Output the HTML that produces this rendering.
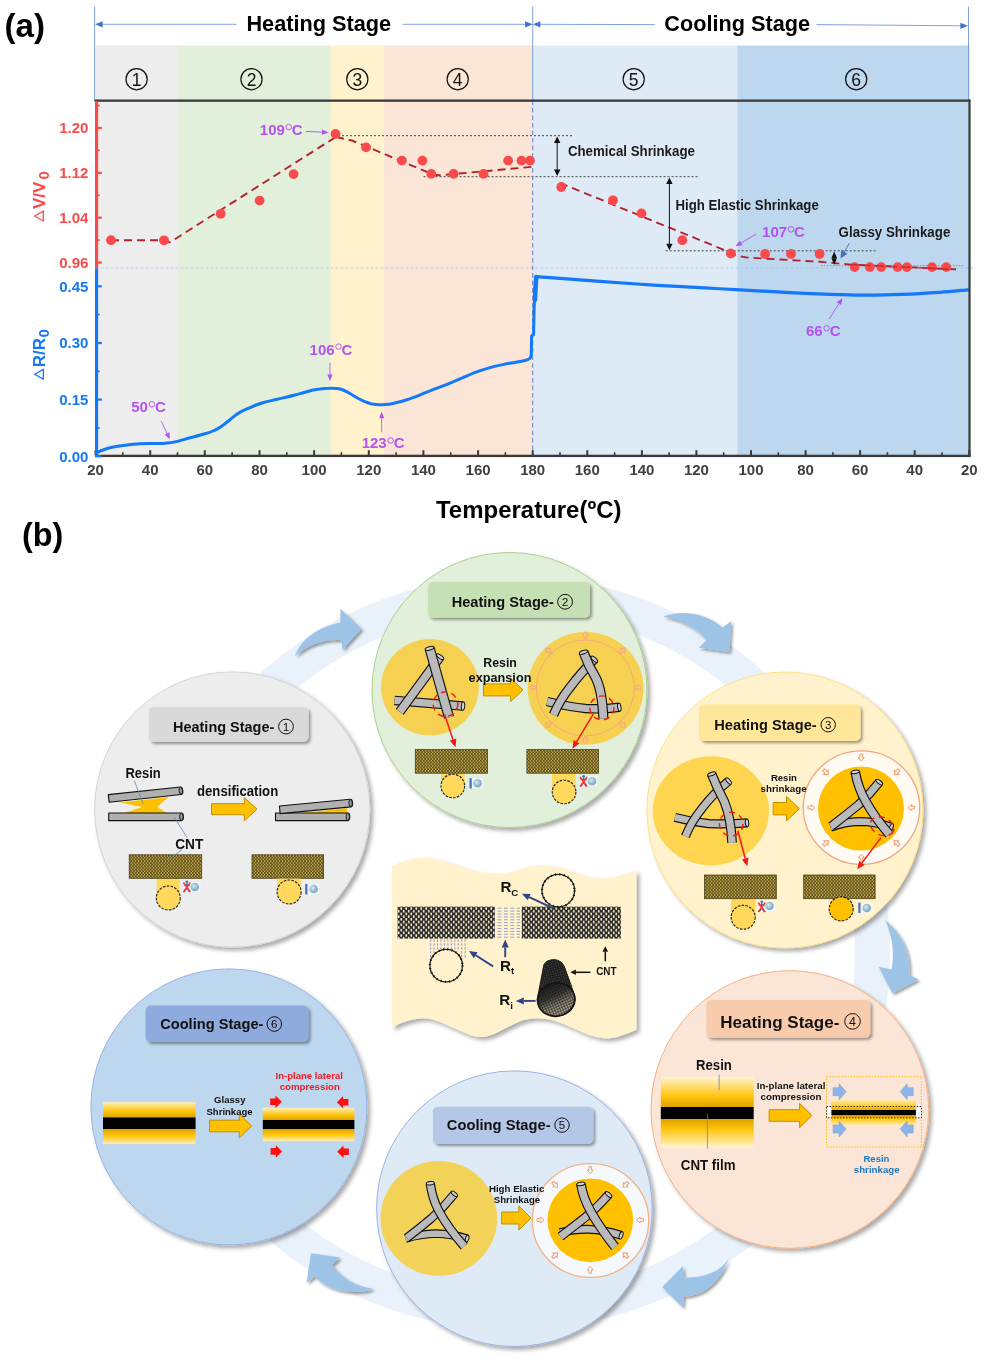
<!DOCTYPE html>
<html><head><meta charset="utf-8"><title>figure</title>
<style>
html,body{margin:0;padding:0;background:#fff;}
body{width:988px;height:1360px;overflow:hidden;font-family:"Liberation Sans",sans-serif;}
svg{display:block;filter:blur(0.4px);}
text{font-family:"Liberation Sans",sans-serif;}
</style></head><body>
<svg width="988" height="1360" viewBox="0 0 988 1360">
<defs>
<filter id="sh" x="-10%" y="-10%" width="125%" height="125%"><feGaussianBlur in="SourceAlpha" stdDeviation="2"/><feOffset dx="2.5" dy="2.5"/><feComponentTransfer><feFuncA type="linear" slope="0.34"/></feComponentTransfer><feMerge><feMergeNode/><feMergeNode in="SourceGraphic"/></feMerge></filter>
<filter id="sh2" x="-20%" y="-20%" width="150%" height="150%"><feGaussianBlur in="SourceAlpha" stdDeviation="1.6"/><feOffset dx="1.5" dy="2"/><feComponentTransfer><feFuncA type="linear" slope="0.4"/></feComponentTransfer><feMerge><feMergeNode/><feMergeNode in="SourceGraphic"/></feMerge></filter>
<filter id="blur1"><feGaussianBlur stdDeviation="0.45"/></filter>
<pattern id="cnt" width="3" height="3.4" patternUnits="userSpaceOnUse"><rect width="3" height="3.4" fill="#5a4f22"/><ellipse cx="0.75" cy="0.85" rx="0.58" ry="0.82" fill="#f7d24f"/><ellipse cx="2.25" cy="2.55" rx="0.58" ry="0.82" fill="#f7d24f"/></pattern>
<pattern id="cntk" width="5" height="5.4" patternUnits="userSpaceOnUse"><rect width="5" height="5.4" fill="#2b2b2b"/><ellipse cx="1.25" cy="1.35" rx="0.92" ry="1.5" fill="#ece2c0"/><ellipse cx="3.75" cy="4.05" rx="0.92" ry="1.5" fill="#ece2c0"/></pattern>
<linearGradient id="film" x1="0" y1="0" x2="0" y2="1"><stop offset="0" stop-color="#fff4d2"/><stop offset="0.28" stop-color="#ffc40a"/><stop offset="0.42" stop-color="#e0a400"/><stop offset="0.43" stop-color="#000"/><stop offset="0.59" stop-color="#000"/><stop offset="0.60" stop-color="#e0a400"/><stop offset="0.74" stop-color="#ffc40a"/><stop offset="1" stop-color="#fff4d2"/></linearGradient>
<linearGradient id="film6" x1="0" y1="0" x2="0" y2="1"><stop offset="0" stop-color="#ffeeb8"/><stop offset="0.22" stop-color="#ffc40a"/><stop offset="0.36" stop-color="#e0a400"/><stop offset="0.37" stop-color="#000"/><stop offset="0.64" stop-color="#000"/><stop offset="0.65" stop-color="#e0a400"/><stop offset="0.8" stop-color="#ffc40a"/><stop offset="1" stop-color="#ffeeb8"/></linearGradient>
<linearGradient id="film4" x1="0" y1="0" x2="0" y2="1"><stop offset="0" stop-color="#ffefc0"/><stop offset="0.3" stop-color="#ffc40a"/><stop offset="0.41" stop-color="#e0a400"/><stop offset="0.42" stop-color="#000"/><stop offset="0.60" stop-color="#000"/><stop offset="0.61" stop-color="#e0a400"/><stop offset="0.72" stop-color="#ffc40a"/><stop offset="1" stop-color="#ffefc0"/></linearGradient>
<radialGradient id="sph" cx="0.4" cy="0.4" r="0.7"><stop offset="0" stop-color="#d9ecf5"/><stop offset="0.55" stop-color="#8fb9d0"/><stop offset="1" stop-color="#7aa6c2"/></radialGradient>
<radialGradient id="tube3d" cx="0.5" cy="0.5" r="0.6"><stop offset="0" stop-color="#555"/><stop offset="1" stop-color="#111"/></radialGradient>
<linearGradient id="tubein" x1="0" y1="0" x2="0.25" y2="1"><stop offset="0" stop-color="#161616"/><stop offset="0.45" stop-color="#3a3935"/><stop offset="0.75" stop-color="#8d8878"/><stop offset="1" stop-color="#a39d88"/></linearGradient>
<pattern id="mesh" width="2.6" height="2.6" patternUnits="userSpaceOnUse" patternTransform="rotate(-12)"><path d="M0 0 L2.6 0 M0 0 L0 2.6" stroke="#111" stroke-width="0.9" fill="none"/></pattern>
<pattern id="mesh2" width="2.4" height="2.4" patternUnits="userSpaceOnUse" patternTransform="rotate(-14)"><rect x="0.7" y="0.7" width="1.1" height="1.1" fill="#777"/></pattern>
</defs>
<rect width="988" height="1360" fill="#fff"/>
<rect x="95.5" y="45.5" width="82.0" height="410.3" fill="#ededed"/>
<rect x="177.2" y="45.5" width="153.7" height="410.3" fill="#e2efda"/>
<rect x="330.6" y="45.5" width="53.7" height="410.3" fill="#fff2cc"/>
<rect x="384.0" y="45.5" width="149.0" height="410.3" fill="#fbe5d6"/>
<rect x="532.7" y="45.5" width="204.9" height="410.3" fill="#deebf7"/>
<rect x="737.3" y="45.5" width="232.0" height="410.3" fill="#bdd7ee"/>
<g stroke="#6f97df" stroke-width="0.9" fill="none">
<line x1="94.6" y1="6.5" x2="94.6" y2="100.6"/>
<line x1="532.7" y1="6.5" x2="532.7" y2="100.6"/>
<line x1="968.5" y1="6.5" x2="968.5" y2="100.6"/>
<line x1="100" y1="24.3" x2="236.5" y2="24.3"/>
<line x1="402.8" y1="24.3" x2="527" y2="24.3"/>
<line x1="538" y1="24.3" x2="654.7" y2="24.6"/>
<line x1="816.4" y1="24.6" x2="962" y2="25.8"/>
</g>
<g fill="#4472c4">
<path d="M95.2 24.3 L102.6 21.2 L102.6 27.4 Z"/>
<path d="M532.5 24.3 L525.1 21.2 L525.1 27.4 Z"/>
<path d="M532.9000000000001 24.3 L540.3000000000001 21.2 L540.3000000000001 27.4 Z"/>
<path d="M967.8 25.8 L960.4 22.7 L960.4 28.9 Z"/>
</g>
<text x="246.4" y="31.4" font-size="21.7" fill="#000" font-weight="bold" textLength="144.8" lengthAdjust="spacingAndGlyphs" >Heating Stage</text>
<text x="664.3" y="31.4" font-size="21.7" fill="#000" font-weight="bold" textLength="145.7" lengthAdjust="spacingAndGlyphs" >Cooling Stage</text>
<text x="4.5" y="36.5" font-size="33" fill="#000" font-weight="bold" textLength="40.5" lengthAdjust="spacingAndGlyphs" >(a)</text>
<circle cx="136.6" cy="79.2" r="10.6" fill="none" stroke="#111" stroke-width="1.2"/>
<text x="136.6" y="85.50" font-size="17.50" text-anchor="middle" fill="#111">1</text>
<circle cx="251.5" cy="79.2" r="10.6" fill="none" stroke="#111" stroke-width="1.2"/>
<text x="251.5" y="85.50" font-size="17.50" text-anchor="middle" fill="#111">2</text>
<circle cx="357.3" cy="79.2" r="10.6" fill="none" stroke="#111" stroke-width="1.2"/>
<text x="357.3" y="85.50" font-size="17.50" text-anchor="middle" fill="#111">3</text>
<circle cx="457.7" cy="79.2" r="10.6" fill="none" stroke="#111" stroke-width="1.2"/>
<text x="457.7" y="85.50" font-size="17.50" text-anchor="middle" fill="#111">4</text>
<circle cx="633.7" cy="79.2" r="10.6" fill="none" stroke="#111" stroke-width="1.2"/>
<text x="633.7" y="85.50" font-size="17.50" text-anchor="middle" fill="#111">5</text>
<circle cx="856.2" cy="79.2" r="10.6" fill="none" stroke="#111" stroke-width="1.2"/>
<text x="856.2" y="85.50" font-size="17.50" text-anchor="middle" fill="#111">6</text>
<g stroke="#444" stroke-width="1" stroke-dasharray="2 2" fill="none">
<line x1="338" y1="135.7" x2="574" y2="135.7"/>
<line x1="423.5" y1="176.7" x2="699.3" y2="176.7"/>
<line x1="665.7" y1="250.8" x2="876.8" y2="250.8"/>
</g>
<line x1="820.8" y1="265.6" x2="963.4" y2="265.6" stroke="#888" stroke-width="0.9" stroke-dasharray="1.5 1.5"/>
<line x1="95.5" y1="268.0" x2="976" y2="268.0" stroke="#a9bfe8" stroke-width="1" stroke-dasharray="3 2" opacity="0.75"/>
<line x1="532.7" y1="100.6" x2="532.7" y2="455.8" stroke="#5b7fd1" stroke-width="1" stroke-dasharray="4.5 3"/>
<g stroke="#b5222b" stroke-width="1.9" fill="none" stroke-dasharray="8 5" stroke-linejoin="round">
<path d="M111 240.2 L163 240.2 Q167 243.6 171 241.6 L335.5 137.2"/>
<path d="M336 137 L352 140.5 L431 173.5 Q436 176 443 175 L534.5 166.6"/>
<path d="M560 183 L728 251.5 Q738 256.8 748 257.6 L820 261.8 L850 264.6 L956 269.4"/>
</g>
<g fill="#fb4a4c">
<circle cx="111" cy="240.2" r="4.9"/>
<circle cx="164" cy="240.3" r="4.9"/>
<circle cx="220.7" cy="213.8" r="4.9"/>
<circle cx="259.6" cy="200.6" r="4.9"/>
<circle cx="293.6" cy="174.1" r="4.9"/>
<circle cx="335.5" cy="133.9" r="4.9"/>
<circle cx="366.1" cy="147.4" r="4.9"/>
<circle cx="401.9" cy="160.6" r="4.9"/>
<circle cx="422.4" cy="160.6" r="4.9"/>
<circle cx="431.3" cy="173.9" r="4.9"/>
<circle cx="453.6" cy="173.9" r="4.9"/>
<circle cx="483.6" cy="173.9" r="4.9"/>
<circle cx="508.1" cy="160.6" r="4.9"/>
<circle cx="521.5" cy="160.6" r="4.9"/>
<circle cx="530" cy="160.6" r="4.9"/>
<circle cx="561.3" cy="187" r="4.9"/>
<circle cx="613" cy="200.3" r="4.9"/>
<circle cx="641.5" cy="213.4" r="4.9"/>
<circle cx="682.3" cy="240.2" r="4.9"/>
<circle cx="730.8" cy="253.5" r="4.9"/>
<circle cx="765.1" cy="254" r="4.9"/>
<circle cx="791" cy="254" r="4.9"/>
<circle cx="819.6" cy="254" r="4.9"/>
<circle cx="854.7" cy="267.1" r="4.9"/>
<circle cx="869.8" cy="267.1" r="4.9"/>
<circle cx="881.3" cy="267.1" r="4.9"/>
<circle cx="897.6" cy="267.1" r="4.9"/>
<circle cx="906.9" cy="267.1" r="4.9"/>
<circle cx="932" cy="267.1" r="4.9"/>
<circle cx="946.3" cy="267.1" r="4.9"/>
</g>
<path d="M850 264.6 L956 269.4" stroke="#b5222b" stroke-width="1.6" fill="none" stroke-dasharray="8 5" opacity="0.75"/>
<path d="M97.0 452.5 C98.0 452.1 100.5 450.9 103.0 450.0 C105.5 449.1 108.3 448.1 112.0 447.3 C115.7 446.5 120.3 445.8 125.0 445.2 C129.7 444.6 135.0 444.0 140.0 443.7 C145.0 443.4 150.8 443.6 155.0 443.5 C159.2 443.4 161.7 443.5 165.0 443.2 C168.3 442.9 170.8 442.8 175.0 441.9 C179.2 441.0 185.0 439.1 190.0 437.8 C195.0 436.5 201.0 435.0 205.0 433.8 C209.0 432.6 211.2 431.8 214.0 430.5 C216.8 429.2 218.0 428.8 222.0 426.0 C226.0 423.2 233.3 416.7 238.0 413.6 C242.7 410.5 246.0 409.4 250.0 407.6 C254.0 405.8 257.8 404.3 262.0 403.0 C266.2 401.7 270.8 400.8 275.0 399.8 C279.2 398.8 282.8 398.0 287.0 397.0 C291.2 396.0 295.8 394.7 300.0 393.6 C304.2 392.5 308.7 391.1 312.0 390.3 C315.3 389.5 317.2 389.2 320.0 388.9 C322.8 388.5 326.2 388.2 329.0 388.2 C331.8 388.1 334.7 388.3 337.0 388.6 C339.3 388.9 340.8 389.2 343.0 390.0 C345.2 390.8 347.7 392.2 350.0 393.5 C352.3 394.8 354.7 396.5 357.0 397.8 C359.3 399.1 361.7 400.4 364.0 401.4 C366.3 402.4 368.7 403.1 371.0 403.7 C373.3 404.2 375.7 404.5 378.0 404.7 C380.3 404.9 382.3 404.9 385.0 404.6 C387.7 404.4 390.8 403.9 394.0 403.2 C397.2 402.5 402.3 401.1 404.0 400.7" stroke="#1478fb" stroke-width="3" fill="none" stroke-linecap="round"/>
<path d="M404.0 400.7 C406.0 400.0 411.7 398.2 416.0 396.6 C420.3 395.0 425.2 392.7 430.0 390.8 C434.8 388.9 440.0 387.2 445.0 385.2 C450.0 383.2 454.8 381.1 460.0 378.9 C465.2 376.7 471.0 374.1 476.0 372.2 C481.0 370.3 485.5 368.9 490.0 367.6 C494.5 366.3 498.8 365.5 503.0 364.6 C507.2 363.7 511.2 363.1 515.0 362.4 C518.8 361.7 523.5 360.9 526.0 360.2 C528.5 359.5 529.3 358.7 530.0 358.4 L530 358.4 L531.3 355 L531.6 336 L533.6 334.6 L534 312 L534.8 290 L535.6 277" stroke="#1478fb" stroke-width="3" fill="none" stroke-linecap="round" stroke-linejoin="round"/>
<path d="M535 300 L536.2 277" stroke="#1478fb" stroke-width="4.4" fill="none" stroke-linecap="round"/>
<path d="M536.0 276.6 C540.0 276.9 549.3 277.6 560.0 278.4 C570.7 279.2 585.0 280.2 600.0 281.3 C615.0 282.4 633.3 283.8 650.0 284.9 C666.7 286.0 685.0 286.9 700.0 287.7 C715.0 288.5 725.0 289.0 740.0 289.8 C755.0 290.6 773.3 291.8 790.0 292.6 C806.7 293.4 825.8 294.2 840.0 294.6 C854.2 295.0 863.3 295.2 875.0 295.1 C886.7 295.0 899.2 294.7 910.0 294.2 C920.8 293.7 930.3 293.0 940.0 292.3 C949.7 291.6 963.3 290.2 968.0 289.8" stroke="#1478fb" stroke-width="3.2" fill="none" stroke-linecap="round"/>
<rect x="94.5" y="99.5" width="875.7" height="2.3" fill="#3b3b3b"/>
<rect x="968.4" y="99.5" width="2.2" height="357.4" fill="#3b3b3b"/>
<rect x="95.5" y="454.7" width="875.1" height="2.4" fill="#3b3b3b"/>
<rect x="94.5" y="450.2" width="2" height="5" fill="#3b3b3b"/>
<rect x="122.0" y="452.2" width="1.6" height="3" fill="#3b3b3b"/>
<rect x="149.2" y="450.2" width="2" height="5" fill="#3b3b3b"/>
<rect x="176.7" y="452.2" width="1.6" height="3" fill="#3b3b3b"/>
<rect x="203.8" y="450.2" width="2" height="5" fill="#3b3b3b"/>
<rect x="231.3" y="452.2" width="1.6" height="3" fill="#3b3b3b"/>
<rect x="258.5" y="450.2" width="2" height="5" fill="#3b3b3b"/>
<rect x="286.0" y="452.2" width="1.6" height="3" fill="#3b3b3b"/>
<rect x="313.1" y="450.2" width="2" height="5" fill="#3b3b3b"/>
<rect x="340.6" y="452.2" width="1.6" height="3" fill="#3b3b3b"/>
<rect x="367.8" y="450.2" width="2" height="5" fill="#3b3b3b"/>
<rect x="395.3" y="452.2" width="1.6" height="3" fill="#3b3b3b"/>
<rect x="422.4" y="450.2" width="2" height="5" fill="#3b3b3b"/>
<rect x="449.9" y="452.2" width="1.6" height="3" fill="#3b3b3b"/>
<rect x="477.1" y="450.2" width="2" height="5" fill="#3b3b3b"/>
<rect x="504.6" y="452.2" width="1.6" height="3" fill="#3b3b3b"/>
<rect x="531.7" y="450.2" width="2" height="5" fill="#3b3b3b"/>
<rect x="559.2" y="452.2" width="1.6" height="3" fill="#3b3b3b"/>
<rect x="586.3" y="450.2" width="2" height="5" fill="#3b3b3b"/>
<rect x="613.8" y="452.2" width="1.6" height="3" fill="#3b3b3b"/>
<rect x="640.9" y="450.2" width="2" height="5" fill="#3b3b3b"/>
<rect x="668.3" y="452.2" width="1.6" height="3" fill="#3b3b3b"/>
<rect x="695.4" y="450.2" width="2" height="5" fill="#3b3b3b"/>
<rect x="722.9" y="452.2" width="1.6" height="3" fill="#3b3b3b"/>
<rect x="750.0" y="450.2" width="2" height="5" fill="#3b3b3b"/>
<rect x="777.5" y="452.2" width="1.6" height="3" fill="#3b3b3b"/>
<rect x="804.6" y="450.2" width="2" height="5" fill="#3b3b3b"/>
<rect x="832.1" y="452.2" width="1.6" height="3" fill="#3b3b3b"/>
<rect x="859.1" y="450.2" width="2" height="5" fill="#3b3b3b"/>
<rect x="886.6" y="452.2" width="1.6" height="3" fill="#3b3b3b"/>
<rect x="913.7" y="450.2" width="2" height="5" fill="#3b3b3b"/>
<rect x="941.2" y="452.2" width="1.6" height="3" fill="#3b3b3b"/>
<rect x="968.3" y="450.2" width="2" height="5" fill="#3b3b3b"/>
<text x="95.5" y="474.8" font-size="15" fill="#404040" font-weight="bold" text-anchor="middle" >20</text>
<text x="150.2" y="474.8" font-size="15" fill="#404040" font-weight="bold" text-anchor="middle" >40</text>
<text x="204.8" y="474.8" font-size="15" fill="#404040" font-weight="bold" text-anchor="middle" >60</text>
<text x="259.5" y="474.8" font-size="15" fill="#404040" font-weight="bold" text-anchor="middle" >80</text>
<text x="314.1" y="474.8" font-size="15" fill="#404040" font-weight="bold" text-anchor="middle" >100</text>
<text x="368.8" y="474.8" font-size="15" fill="#404040" font-weight="bold" text-anchor="middle" >120</text>
<text x="423.4" y="474.8" font-size="15" fill="#404040" font-weight="bold" text-anchor="middle" >140</text>
<text x="478.1" y="474.8" font-size="15" fill="#404040" font-weight="bold" text-anchor="middle" >160</text>
<text x="532.7" y="474.8" font-size="15" fill="#404040" font-weight="bold" text-anchor="middle" >180</text>
<text x="587.3" y="474.8" font-size="15" fill="#404040" font-weight="bold" text-anchor="middle" >160</text>
<text x="641.9" y="474.8" font-size="15" fill="#404040" font-weight="bold" text-anchor="middle" >140</text>
<text x="696.4" y="474.8" font-size="15" fill="#404040" font-weight="bold" text-anchor="middle" >120</text>
<text x="751.0" y="474.8" font-size="15" fill="#404040" font-weight="bold" text-anchor="middle" >100</text>
<text x="805.6" y="474.8" font-size="15" fill="#404040" font-weight="bold" text-anchor="middle" >80</text>
<text x="860.1" y="474.8" font-size="15" fill="#404040" font-weight="bold" text-anchor="middle" >60</text>
<text x="914.7" y="474.8" font-size="15" fill="#404040" font-weight="bold" text-anchor="middle" >40</text>
<text x="969.3" y="474.8" font-size="15" fill="#404040" font-weight="bold" text-anchor="middle" >20</text>
<text x="436" y="517.5" font-size="24" fill="#000" font-weight="bold" textLength="185.5" lengthAdjust="spacingAndGlyphs" >Temperature(ºC)</text>
<rect x="95" y="101.19999999999999" width="3.1" height="167.1" fill="#fb4a4c"/>
<rect x="95" y="126.9" width="6.8" height="2.2" fill="#fb4a4c"/>
<text x="88.4" y="133.4" font-size="15" fill="#fb4a4c" font-weight="bold" text-anchor="end" >1.20</text>
<rect x="95" y="171.8" width="6.8" height="2.2" fill="#fb4a4c"/>
<text x="88.4" y="178.3" font-size="15" fill="#fb4a4c" font-weight="bold" text-anchor="end" >1.12</text>
<rect x="95" y="216.6" width="6.8" height="2.2" fill="#fb4a4c"/>
<text x="88.4" y="223.1" font-size="15" fill="#fb4a4c" font-weight="bold" text-anchor="end" >1.04</text>
<rect x="95" y="261.4" width="6.8" height="2.2" fill="#fb4a4c"/>
<text x="88.4" y="267.9" font-size="15" fill="#fb4a4c" font-weight="bold" text-anchor="end" >0.96</text>
<rect x="95" y="104.6" width="4.6" height="1.8" fill="#fb4a4c"/>
<rect x="95" y="149.5" width="4.6" height="1.8" fill="#fb4a4c"/>
<rect x="95" y="194.4" width="4.6" height="1.8" fill="#fb4a4c"/>
<rect x="95" y="239.2" width="4.6" height="1.8" fill="#fb4a4c"/>
<rect x="95" y="268.3" width="3.1" height="188.7" fill="#1478fb"/>
<rect x="95" y="285.2" width="6.8" height="2.2" fill="#1478fb"/>
<text x="88.4" y="291.7" font-size="15" fill="#1478fb" font-weight="bold" text-anchor="end" >0.45</text>
<rect x="95" y="341.9" width="6.8" height="2.2" fill="#1478fb"/>
<text x="88.4" y="348.4" font-size="15" fill="#1478fb" font-weight="bold" text-anchor="end" >0.30</text>
<rect x="95" y="398.5" width="6.8" height="2.2" fill="#1478fb"/>
<text x="88.4" y="405.0" font-size="15" fill="#1478fb" font-weight="bold" text-anchor="end" >0.15</text>
<rect x="95" y="455.09999999999997" width="6.8" height="2.2" fill="#1478fb"/>
<text x="88.4" y="461.59999999999997" font-size="15" fill="#1478fb" font-weight="bold" text-anchor="end" >0.00</text>
<rect x="95" y="313.70000000000005" width="4.6" height="1.8" fill="#1478fb"/>
<rect x="95" y="370.40000000000003" width="4.6" height="1.8" fill="#1478fb"/>
<rect x="95" y="427.1" width="4.6" height="1.8" fill="#1478fb"/>
<g transform="translate(44.6 196.5) rotate(-90)" fill="#fb4a4c">
<path d="M-25.6 -0.6 L-19.6 -11.2 L-13.6 -0.6 Z M-23.4 -1.9 L-15.8 -1.9 L-19.6 -8.8 Z" fill-rule="evenodd"/>
<text x="-12.6" y="0" font-size="17" font-weight="bold">V/V</text>
<text x="17" y="4.2" font-size="15" font-weight="bold">0</text>
</g>
<g transform="translate(44.6 354.6) rotate(-90)" fill="#1478fb">
<path d="M-25.6 -0.6 L-19.6 -11.2 L-13.6 -0.6 Z M-23.4 -1.9 L-15.8 -1.9 L-19.6 -8.8 Z" fill-rule="evenodd"/>
<text x="-12.6" y="0" font-size="17" font-weight="bold">R/R</text>
<text x="17" y="4.2" font-size="15" font-weight="bold">0</text>
</g>
<text x="259.8" y="135" font-size="15" font-weight="bold" fill="#b452f0">109</text>
<circle cx="288.7" cy="127.1" r="2.75" fill="none" stroke="#b452f0" stroke-width="0.95"/>
<text x="291.8" y="135" font-size="15" font-weight="bold" fill="#b452f0">C</text>
<line x1="305.7" y1="131.4" x2="322.0" y2="132.1" stroke="#b452f0" stroke-width="0.9"/>
<path d="M328.5 132.4 L321.9 134.7 L322.1 129.5 Z" fill="#b452f0"/>
<text x="131.2" y="412.2" font-size="15" font-weight="bold" fill="#b452f0">50</text>
<circle cx="151.8" cy="404.3" r="2.75" fill="none" stroke="#b452f0" stroke-width="0.95"/>
<text x="154.9" y="412.2" font-size="15" font-weight="bold" fill="#b452f0">C</text>
<line x1="161.3" y1="421.3" x2="167.0" y2="433.3" stroke="#b452f0" stroke-width="0.9"/>
<path d="M169.8 439.2 L164.7 434.4 L169.4 432.2 Z" fill="#b452f0"/>
<text x="309.6" y="354.5" font-size="15" font-weight="bold" fill="#b452f0">106</text>
<circle cx="338.5" cy="346.6" r="2.75" fill="none" stroke="#b452f0" stroke-width="0.95"/>
<text x="341.6" y="354.5" font-size="15" font-weight="bold" fill="#b452f0">C</text>
<line x1="330.0" y1="362.9" x2="330.0" y2="374.5" stroke="#b452f0" stroke-width="0.9"/>
<path d="M330.0 381.0 L327.4 374.5 L332.6 374.5 Z" fill="#b452f0"/>
<text x="361.7" y="448.4" font-size="15" font-weight="bold" fill="#b452f0">123</text>
<circle cx="390.6" cy="440.5" r="2.75" fill="none" stroke="#b452f0" stroke-width="0.95"/>
<text x="393.7" y="448.4" font-size="15" font-weight="bold" fill="#b452f0">C</text>
<line x1="381.7" y1="432.5" x2="381.7" y2="418.3" stroke="#b452f0" stroke-width="0.9"/>
<path d="M381.7 411.8 L384.3 418.3 L379.1 418.3 Z" fill="#b452f0"/>
<text x="762.1" y="237.2" font-size="15" font-weight="bold" fill="#b452f0">107</text>
<circle cx="791.0" cy="229.3" r="2.75" fill="none" stroke="#b452f0" stroke-width="0.95"/>
<text x="794.1" y="237.2" font-size="15" font-weight="bold" fill="#b452f0">C</text>
<line x1="756.3" y1="234.0" x2="741.1" y2="243.0" stroke="#b452f0" stroke-width="0.9"/>
<path d="M735.5 246.3 L739.8 240.8 L742.4 245.2 Z" fill="#b452f0"/>
<text x="806" y="336.1" font-size="15" font-weight="bold" fill="#b452f0">66</text>
<circle cx="826.6" cy="328.2" r="2.75" fill="none" stroke="#b452f0" stroke-width="0.95"/>
<text x="829.7" y="336.1" font-size="15" font-weight="bold" fill="#b452f0">C</text>
<line x1="829.1" y1="319.3" x2="838.9" y2="303.7" stroke="#b452f0" stroke-width="0.9"/>
<path d="M842.4 298.2 L841.1 305.1 L836.7 302.3 Z" fill="#b452f0"/>
<line x1="557.2" y1="142.1" x2="557.2" y2="170.5" stroke="#111" stroke-width="1"/>
<path d="M557.2 136.6 L554.0 143.1 L560.4000000000001 143.1 Z M557.2 176 L554.0 169.5 L560.4000000000001 169.5 Z" fill="#111"/>
<line x1="669.4" y1="183.1" x2="669.4" y2="244.7" stroke="#111" stroke-width="1"/>
<path d="M669.4 177.6 L666.1999999999999 184.1 L672.6 184.1 Z M669.4 250.2 L666.1999999999999 243.7 L672.6 243.7 Z" fill="#111"/>
<line x1="834.2" y1="257.0" x2="834.2" y2="259.2" stroke="#111" stroke-width="1"/>
<path d="M834.2 251.4 L831.4000000000001 258.0 L837.0 258.0 Z M834.2 264.8 L831.4000000000001 258.2 L837.0 258.2 Z" fill="#111"/>
<text x="567.9" y="156.4" font-size="14" fill="#1a1a1a" font-weight="bold" textLength="127" lengthAdjust="spacingAndGlyphs" >Chemical Shrinkage</text>
<text x="675.5" y="209.7" font-size="14" fill="#1a1a1a" font-weight="bold" textLength="143.3" lengthAdjust="spacingAndGlyphs" >High Elastic Shrinkage</text>
<text x="838.6" y="236.5" font-size="14" fill="#1a1a1a" font-weight="bold" textLength="111.7" lengthAdjust="spacingAndGlyphs" >Glassy Shrinkage</text>
<line x1="849.4" y1="243.0" x2="844.3" y2="251.9" stroke="#4472c4" stroke-width="0.9"/>
<path d="M840.6 258.4 L841.1 250.1 L847.5 253.7 Z" fill="#4472c4"/>
<text x="21.9" y="546" font-size="33" fill="#000" font-weight="bold" textLength="41.3" lengthAdjust="spacingAndGlyphs" >(b)</text>
<path d="M192.7 789.8 A359.5 359.5 0 0 1 872.5 953.0 A359.5 359.5 0 0 1 197.1 1124.5" stroke="#e9f1fa" stroke-width="35" fill="none"/>
<g fill="#9dc3e6" filter="url(#sh2)">
<path d="M295 656 C300 642 314 628 340.4 622.6 L340.4 608.7 L361.5 629.1 L342 650.1 L342 640.4 C326 638.6 308 645 295 656 Z"/>
<path d="M663.1 616.5 C680 610.5 703 611.5 722.6 627.4 L731.3 621 L729.3 652 L698.9 647.7 L706.8 639.8 C695 627 680 619 663.1 616.5 Z"/>
<path d="M885.5 920.4 C902 934 911 952 909.3 974.8 L918.6 979.6 L892.3 993.2 L878.7 966.7 L891.4 969.4 C895 952 892 936 885.5 920.4 Z"/>
<path d="M728.9 1258.3 C722 1270 706 1278.5 683.4 1277.4 L682.9 1266 L662.3 1287.1 L682.9 1307.5 L683.8 1296.6 C704 1296 720 1282 728.9 1258.3 Z"/>
<path d="M373.9 1288.9 C356 1287 340 1277 332 1264.7 L340.2 1257.4 L311 1253.2 L306.5 1282.9 L314.7 1276.5 C328 1291 352 1296 373.9 1288.9 Z"/>
</g>
<circle cx="232.2" cy="809.5" r="137.6" fill="#ededed" stroke="#d4d4d4" stroke-width="1" filter="url(#sh)"/>
<circle cx="509.5" cy="690" r="137.5" fill="#e2efda" stroke="#a9d18e" stroke-width="1" filter="url(#sh)"/>
<circle cx="784.9" cy="810" r="138" fill="#fff2cc" stroke="#ffe08a" stroke-width="1" filter="url(#sh)"/>
<circle cx="789.8" cy="1109.5" r="138.8" fill="#fbe5d6" stroke="#f4b183" stroke-width="1" filter="url(#sh)"/>
<circle cx="514.4" cy="1208.7" r="137.8" fill="#deebf7" stroke="#9ab2e3" stroke-width="1" filter="url(#sh)"/>
<circle cx="228.9" cy="1106.9" r="138" fill="#bdd7ee" stroke="#9ab2e3" stroke-width="1" filter="url(#sh)"/>
<rect x="148.8" y="706.9" width="159.7" height="35.1" rx="5" fill="#d9d9d9" filter="url(#sh2)"/>
<text x="173" y="731.8" font-size="14.6" fill="#111" font-weight="bold" textLength="101.3" lengthAdjust="spacingAndGlyphs" >Heating Stage-</text>
<circle cx="286" cy="726.544" r="7.4" fill="none" stroke="#111" stroke-width="1.0"/>
<text x="286" y="730.81" font-size="11.84" text-anchor="middle" fill="#111">1</text>
<rect x="428.1" y="582.1" width="161.9" height="35.6" rx="5" fill="#c5e0b4" filter="url(#sh2)"/>
<text x="451.7" y="607" font-size="14.6" fill="#111" font-weight="bold" textLength="102.1" lengthAdjust="spacingAndGlyphs" >Heating Stage-</text>
<circle cx="565.1" cy="601.744" r="7.4" fill="none" stroke="#111" stroke-width="1.0"/>
<text x="565.1" y="606.01" font-size="11.84" text-anchor="middle" fill="#111">2</text>
<rect x="699.1" y="704.5" width="161.4" height="36.4" rx="5" fill="#ffe699" filter="url(#sh2)"/>
<text x="714.3" y="730" font-size="14.6" fill="#111" font-weight="bold" textLength="102.4" lengthAdjust="spacingAndGlyphs" >Heating Stage-</text>
<circle cx="828.2" cy="724.744" r="7.2" fill="none" stroke="#111" stroke-width="1.0"/>
<text x="828.2" y="728.89" font-size="11.52" text-anchor="middle" fill="#111">3</text>
<rect x="706.4" y="1000.1" width="163.9" height="37.6" rx="5" fill="#f8cbad" filter="url(#sh2)"/>
<text x="720.2" y="1027.5" font-size="17" fill="#111" font-weight="bold" textLength="119.2" lengthAdjust="spacingAndGlyphs" >Heating Stage-</text>
<circle cx="852.5" cy="1021.38" r="7.8" fill="none" stroke="#111" stroke-width="1.0"/>
<text x="852.5" y="1025.87" font-size="12.48" text-anchor="middle" fill="#111">4</text>
<rect x="432.9" y="1106.7" width="160.4" height="37.2" rx="5" fill="#b4c7e7" filter="url(#sh2)"/>
<text x="446.8" y="1130.4" font-size="14.7" fill="#111" font-weight="bold" textLength="103.8" lengthAdjust="spacingAndGlyphs" >Cooling Stage-</text>
<circle cx="562" cy="1125.1080000000002" r="7.2" fill="none" stroke="#111" stroke-width="1.0"/>
<text x="562" y="1129.26" font-size="11.52" text-anchor="middle" fill="#111">5</text>
<rect x="145.6" y="1005.6" width="162.9" height="36.4" rx="5" fill="#8faadc" filter="url(#sh2)"/>
<text x="160.2" y="1029.3" font-size="14.7" fill="#111" font-weight="bold" textLength="103.2" lengthAdjust="spacingAndGlyphs" >Cooling Stage-</text>
<circle cx="274.3" cy="1024.008" r="7.3" fill="none" stroke="#111" stroke-width="1.0"/>
<text x="274.3" y="1028.21" font-size="11.68" text-anchor="middle" fill="#111">6</text>
<text x="125.4" y="777.8" font-size="14" fill="#111" font-weight="bold" textLength="35.3" lengthAdjust="spacingAndGlyphs" >Resin</text>
<path d="M120 802.5 L168.5 797 L157 807 L167 813 L124.6 813 L142 807 Z" fill="#ffc000"/>
<g transform="translate(108.7 798.4) rotate(-6.04)">
<path d="M0 -3.8 L72.6 -3.8 A1.9 3.8 0 0 1 72.6 3.8 L0 3.8 Z" fill="#b0b0b0" stroke="#111" stroke-width="1.1" stroke-linejoin="round"/>
<ellipse cx="72.5" cy="0" rx="1.7" ry="3.5" fill="#9a9a9a" stroke="#111" stroke-width="0.9"/>
</g>
<g transform="translate(108.7 816.8) rotate(0.00)">
<path d="M0 -3.8 L72.8 -3.8 A1.9 3.8 0 0 1 72.8 3.8 L0 3.8 Z" fill="#b0b0b0" stroke="#111" stroke-width="1.1" stroke-linejoin="round"/>
<ellipse cx="72.7" cy="0" rx="1.7" ry="3.5" fill="#9a9a9a" stroke="#111" stroke-width="0.9"/>
</g>
<text x="197" y="796" font-size="14" fill="#111" font-weight="bold" textLength="81.2" lengthAdjust="spacingAndGlyphs" >densification</text>
<path d="M211.5 803.7 L244.3 803.7 L244.3 797.6 L257.1 809.2 L244.3 820.8 L244.3 814.7 L211.5 814.7 Z" fill="#ffc000" stroke="#bf9000" stroke-width="1"/>
<path d="M302 813 L347 808 L347 813 Z" fill="#ffc000"/>
<g transform="translate(275.5 816.8) rotate(0.00)">
<path d="M0 -3.8 L72.4 -3.8 A1.9 3.8 0 0 1 72.4 3.8 L0 3.8 Z" fill="#b0b0b0" stroke="#111" stroke-width="1.1" stroke-linejoin="round"/>
<ellipse cx="72.3" cy="0" rx="1.7" ry="3.5" fill="#9a9a9a" stroke="#111" stroke-width="0.9"/>
</g>
<g transform="translate(279.8 809.8) rotate(-5.44)">
<path d="M0 -3.8 L71.2 -3.8 A1.9 3.8 0 0 1 71.2 3.8 L0 3.8 Z" fill="#b0b0b0" stroke="#111" stroke-width="1.1" stroke-linejoin="round"/>
<ellipse cx="71.1" cy="0" rx="1.7" ry="3.5" fill="#9a9a9a" stroke="#111" stroke-width="0.9"/>
</g>
<line x1="134.2" y1="780.5" x2="143.2" y2="803.7" stroke="#5b86c9" stroke-width="0.8"/>
<line x1="174.3" y1="817.4" x2="186.9" y2="837.3" stroke="#5b86c9" stroke-width="0.8"/>
<text x="175.2" y="848.8" font-size="14" fill="#111" font-weight="bold" textLength="28.1" lengthAdjust="spacingAndGlyphs" >CNT</text>
<rect x="156.6" y="878" width="23.2" height="20.0" fill="#ffd85c"/>
<circle cx="168.3" cy="898" r="12" fill="#ffd85c" stroke="#222" stroke-width="1.15" stroke-dasharray="2.6 1.3"/>
<rect x="129.2" y="854.8" width="72.5" height="23.5" fill="url(#cnt)" stroke="#4a401a" stroke-width="0.8"/>
<line x1="182" y1="849.6" x2="168.3" y2="859.8" stroke="#5b86c9" stroke-width="0.8"/>
<rect x="189.8" y="882" width="10.5" height="10" fill="#f4f8fb" opacity="0.9"/>
<circle cx="194.8" cy="887" r="4.3" fill="url(#sph)"/>
<path d="M186.9 882 L186.9 888 M184.4 892 L186.9 888 L189.4 892 M183.9 885 L189.9 885" stroke="#4472c4" stroke-width="1.3" fill="none"/>
<circle cx="186.9" cy="881.8" r="1.3" fill="#4472c4"/>
<path d="M183.4 882.5 L190.4 892 M190.4 882.5 L183.4 892" stroke="#f03a3a" stroke-width="1.5" fill="none"/>
<rect x="252" y="854.8" width="71.6" height="23.5" fill="url(#cnt)" stroke="#4a401a" stroke-width="0.8"/>
<rect x="277.1" y="878.6" width="23.8" height="13.4" fill="#ffd85c"/>
<circle cx="289.1" cy="892" r="12" fill="#ffd85c" stroke="#222" stroke-width="1.15" stroke-dasharray="2.6 1.3"/>
<rect x="308.7" y="884" width="10.5" height="10" fill="#f4f8fb" opacity="0.9"/>
<circle cx="313.7" cy="889" r="4.3" fill="url(#sph)"/>
<rect x="305.2" y="884.0" width="2.2" height="10.4" fill="#4472c4"/>
<ellipse cx="430" cy="687.2" rx="48.9" ry="48.1" fill="#f6d050"/>
<path d="M394.5 700.4 L463 706.1" stroke="#111" stroke-width="9.5" fill="none" stroke-linecap="butt"/>
<path d="M394.5 700.4 L463 706.1" stroke="#bababa" stroke-width="7.2" fill="none" stroke-linecap="butt"/>
<ellipse cx="463.0" cy="706.1" rx="1.7" ry="4.1" fill="#d2d2d2" stroke="#111" stroke-width="1" transform="rotate(4.8 463.0 706.1)"/>
<path d="M399.8 711.8 L440.1 656.7" stroke="#111" stroke-width="9.899999999999999" fill="none" stroke-linecap="butt"/>
<path d="M399.8 711.8 L440.1 656.7" stroke="#bababa" stroke-width="7.6" fill="none" stroke-linecap="butt"/>
<ellipse cx="440.1" cy="656.7" rx="1.7" ry="4.3" fill="#d2d2d2" stroke="#111" stroke-width="1" transform="rotate(-53.8 440.1 656.7)"/>
<path d="M429.6 648.4 L449 717.4" stroke="#111" stroke-width="10.3" fill="none" stroke-linecap="butt"/>
<path d="M429.6 648.4 L449 717.4" stroke="#bababa" stroke-width="8.0" fill="none" stroke-linecap="butt"/>
<ellipse cx="429.6" cy="648.4" rx="1.7" ry="4.5" fill="#d2d2d2" stroke="#111" stroke-width="1" transform="rotate(-105.7 429.6 648.4)"/>
<ellipse cx="445.5" cy="704.1" rx="12.3" ry="12.3" fill="none" stroke="#f01818" stroke-width="1.4" stroke-dasharray="6 4.6" transform="rotate(0 445.5 704.1)"/>
<line x1="444.6" y1="714.6" x2="453.0" y2="739.7" stroke="#f01818" stroke-width="1.5"/>
<path d="M455.6 747.3 L449.8 740.8 L456.3 738.6 Z" fill="#f01818"/>
<path d="M483.5 683.9 L510.6 683.9 L510.6 678.3 L523 689.9 L510.6 701.5 L510.6 695.9 L483.5 695.9 Z" fill="#ffc000" stroke="#bf9000" stroke-width="1"/>
<ellipse cx="585.6" cy="688.3" rx="57.9" ry="56.4" fill="#f6d050"/>
<ellipse cx="585.4" cy="688" rx="49" ry="48" fill="none" stroke="#f4a582" stroke-width="0.9"/>
<path d="M-3.6 -1.4 L0 -1.4 L0 -3.1 L3.6 0 L0 3.1 L0 1.4 L-3.6 1.4 Z" fill="none" stroke="#f2a77f" stroke-width="1.05" transform="translate(638.0 687.6) rotate(0) scale(0.95)"/>
<path d="M-3.6 -1.4 L0 -1.4 L0 -3.1 L3.6 0 L0 3.1 L0 1.4 L-3.6 1.4 Z" fill="none" stroke="#f2a77f" stroke-width="1.05" transform="translate(622.6 724.8) rotate(45) scale(0.95)"/>
<path d="M-3.6 -1.4 L0 -1.4 L0 -3.1 L3.6 0 L0 3.1 L0 1.4 L-3.6 1.4 Z" fill="none" stroke="#f2a77f" stroke-width="1.05" transform="translate(585.4 740.2) rotate(90) scale(0.95)"/>
<path d="M-3.6 -1.4 L0 -1.4 L0 -3.1 L3.6 0 L0 3.1 L0 1.4 L-3.6 1.4 Z" fill="none" stroke="#f2a77f" stroke-width="1.05" transform="translate(548.2 724.8) rotate(135) scale(0.95)"/>
<path d="M-3.6 -1.4 L0 -1.4 L0 -3.1 L3.6 0 L0 3.1 L0 1.4 L-3.6 1.4 Z" fill="none" stroke="#f2a77f" stroke-width="1.05" transform="translate(532.8 687.6) rotate(180) scale(0.95)"/>
<path d="M-3.6 -1.4 L0 -1.4 L0 -3.1 L3.6 0 L0 3.1 L0 1.4 L-3.6 1.4 Z" fill="none" stroke="#f2a77f" stroke-width="1.05" transform="translate(548.2 650.4) rotate(225) scale(0.95)"/>
<path d="M-3.6 -1.4 L0 -1.4 L0 -3.1 L3.6 0 L0 3.1 L0 1.4 L-3.6 1.4 Z" fill="none" stroke="#f2a77f" stroke-width="1.05" transform="translate(585.4 635.0) rotate(270) scale(0.95)"/>
<path d="M-3.6 -1.4 L0 -1.4 L0 -3.1 L3.6 0 L0 3.1 L0 1.4 L-3.6 1.4 Z" fill="none" stroke="#f2a77f" stroke-width="1.05" transform="translate(622.6 650.4) rotate(315) scale(0.95)"/>
<path d="M547.1 701.5 Q570 707 585.7 708.5 Q603 709.5 619.3 707.2" stroke="#111" stroke-width="9.5" fill="none" stroke-linecap="butt"/>
<path d="M547.1 701.5 Q570 707 585.7 708.5 Q603 709.5 619.3 707.2" stroke="#bababa" stroke-width="7.2" fill="none" stroke-linecap="butt"/>
<ellipse cx="619.3" cy="707.2" rx="1.7" ry="4.1" fill="#d2d2d2" stroke="#111" stroke-width="1" transform="rotate(-8.0 619.3 707.2)"/>
<path d="M553.5 714.8 Q560 700 569.3 688.3 Q580 674 594.3 659.2" stroke="#111" stroke-width="9.7" fill="none" stroke-linecap="butt"/>
<path d="M553.5 714.8 Q560 700 569.3 688.3 Q580 674 594.3 659.2" stroke="#bababa" stroke-width="7.4" fill="none" stroke-linecap="butt"/>
<ellipse cx="594.3" cy="659.2" rx="1.7" ry="4.2" fill="#d2d2d2" stroke="#111" stroke-width="1" transform="rotate(-46.0 594.3 659.2)"/>
<path d="M583.5 652.2 Q588 665 595.9 678.1 Q602 690 603.4 718.6" stroke="#111" stroke-width="10.1" fill="none" stroke-linecap="butt"/>
<path d="M583.5 652.2 Q588 665 595.9 678.1 Q602 690 603.4 718.6" stroke="#bababa" stroke-width="7.8" fill="none" stroke-linecap="butt"/>
<ellipse cx="583.5" cy="652.2" rx="1.7" ry="4.4" fill="#d2d2d2" stroke="#111" stroke-width="1" transform="rotate(-109.4 583.5 652.2)"/>
<ellipse cx="601.9" cy="707.9" rx="12" ry="12" fill="none" stroke="#f01818" stroke-width="1.4" stroke-dasharray="6 4.6" transform="rotate(0 601.9 707.9)"/>
<line x1="593.3" y1="714.2" x2="576.5" y2="741.9" stroke="#f01818" stroke-width="1.5"/>
<path d="M572.4 748.7 L573.6 740.1 L579.5 743.6 Z" fill="#f01818"/>
<text x="483.3" y="667.1" font-size="13" fill="#111" font-weight="bold" textLength="33.6" lengthAdjust="spacingAndGlyphs" >Resin</text>
<text x="468.6" y="682.3" font-size="13" fill="#111" font-weight="bold" textLength="62.8" lengthAdjust="spacingAndGlyphs" >expansion</text>
<rect x="441" y="773" width="23.7" height="13.0" fill="#ffd85c"/>
<circle cx="452.8" cy="786" r="11.8" fill="#ffd85c" stroke="#222" stroke-width="1.15" stroke-dasharray="2.6 1.3"/>
<rect x="415.3" y="749.6" width="72.1" height="23.6" fill="url(#cnt)" stroke="#4a401a" stroke-width="0.8"/>
<rect x="472.6" y="778.3" width="10.5" height="10" fill="#f4f8fb" opacity="0.9"/>
<circle cx="477.6" cy="783.3" r="4.3" fill="url(#sph)"/>
<rect x="469.5" y="778.0999999999999" width="2.2" height="10.4" fill="#4472c4"/>
<rect x="552.1" y="773" width="23.7" height="19.0" fill="#ffd85c"/>
<circle cx="564.1" cy="792" r="11.8" fill="#ffd85c" stroke="#222" stroke-width="1.15" stroke-dasharray="2.6 1.3"/>
<rect x="526.9" y="749.6" width="71.6" height="23.6" fill="url(#cnt)" stroke="#4a401a" stroke-width="0.8"/>
<rect x="587" y="776.2" width="10.5" height="10" fill="#f4f8fb" opacity="0.9"/>
<circle cx="592" cy="781.2" r="4.3" fill="url(#sph)"/>
<path d="M583.6 776.5 L583.6 782.5 M581.1 786.5 L583.6 782.5 L586.1 786.5 M580.6 779.5 L586.6 779.5" stroke="#4472c4" stroke-width="1.3" fill="none"/>
<circle cx="583.6" cy="776.3" r="1.3" fill="#4472c4"/>
<path d="M580.1 777.0 L587.1 786.5 M587.1 777.0 L580.1 786.5" stroke="#f03a3a" stroke-width="1.5" fill="none"/>
<ellipse cx="710.9" cy="810.9" rx="58.1" ry="54.6" fill="#ffd54f"/>
<path d="M674.8 817.3 Q692 822 708.8 823.6 Q728 824.5 747 822.9" stroke="#111" stroke-width="9.1" fill="none" stroke-linecap="butt"/>
<path d="M674.8 817.3 Q692 822 708.8 823.6 Q728 824.5 747 822.9" stroke="#bababa" stroke-width="6.8" fill="none" stroke-linecap="butt"/>
<ellipse cx="747.0" cy="822.9" rx="1.7" ry="3.9" fill="#d2d2d2" stroke="#111" stroke-width="1" transform="rotate(-4.8 747.0 822.9)"/>
<path d="M685.4 836.4 Q691 822 701.7 808.8 Q713 794 728.6 781.1" stroke="#111" stroke-width="9.1" fill="none" stroke-linecap="butt"/>
<path d="M685.4 836.4 Q691 822 701.7 808.8 Q713 794 728.6 781.1" stroke="#bababa" stroke-width="6.8" fill="none" stroke-linecap="butt"/>
<ellipse cx="728.6" cy="781.1" rx="1.7" ry="3.9" fill="#d2d2d2" stroke="#111" stroke-width="1" transform="rotate(-39.6 728.6 781.1)"/>
<path d="M711.6 774 Q717 788 724.4 801.7 Q731 818 732.1 842.8" stroke="#111" stroke-width="9.7" fill="none" stroke-linecap="butt"/>
<path d="M711.6 774 Q717 788 724.4 801.7 Q731 818 732.1 842.8" stroke="#bababa" stroke-width="7.4" fill="none" stroke-linecap="butt"/>
<ellipse cx="711.6" cy="774.0" rx="1.7" ry="4.2" fill="#d2d2d2" stroke="#111" stroke-width="1" transform="rotate(-111.1 711.6 774.0)"/>
<ellipse cx="731.2" cy="824.1" rx="11.8" ry="11.8" fill="none" stroke="#f01818" stroke-width="1.4" stroke-dasharray="6 4.6" transform="rotate(0 731.2 824.1)"/>
<line x1="737.8" y1="830.7" x2="745.2" y2="858.5" stroke="#f01818" stroke-width="1.5"/>
<path d="M747.3 866.2 L741.9 859.4 L748.5 857.6 Z" fill="#f01818"/>
<path d="M773.2 802.5 L786.5 802.5 L786.5 796.4 L799.3 808.7 L786.5 821.0 L786.5 814.9 L773.2 814.9 Z" fill="#ffc000" stroke="#bf9000" stroke-width="1"/>
<ellipse cx="861.5" cy="807.6" rx="58.2" ry="56.7" fill="#fffbf2" stroke="#f2a784" stroke-width="1.3"/>
<ellipse cx="861" cy="808.6" rx="43" ry="42" fill="#ffc000"/>
<path d="M-3.6 -1.4 L0 -1.4 L0 -3.1 L3.6 0 L0 3.1 L0 1.4 L-3.6 1.4 Z" fill="none" stroke="#f29b6e" stroke-width="1.05" transform="translate(911.3 807.6) rotate(180) scale(0.95)"/>
<path d="M-3.6 -1.4 L0 -1.4 L0 -3.1 L3.6 0 L0 3.1 L0 1.4 L-3.6 1.4 Z" fill="none" stroke="#f29b6e" stroke-width="1.05" transform="translate(896.7 843.0) rotate(225) scale(0.95)"/>
<path d="M-3.6 -1.4 L0 -1.4 L0 -3.1 L3.6 0 L0 3.1 L0 1.4 L-3.6 1.4 Z" fill="none" stroke="#f29b6e" stroke-width="1.05" transform="translate(861.3 857.6) rotate(270) scale(0.95)"/>
<path d="M-3.6 -1.4 L0 -1.4 L0 -3.1 L3.6 0 L0 3.1 L0 1.4 L-3.6 1.4 Z" fill="none" stroke="#f29b6e" stroke-width="1.05" transform="translate(825.9 843.0) rotate(315) scale(0.95)"/>
<path d="M-3.6 -1.4 L0 -1.4 L0 -3.1 L3.6 0 L0 3.1 L0 1.4 L-3.6 1.4 Z" fill="none" stroke="#f29b6e" stroke-width="1.05" transform="translate(811.3 807.6) rotate(360) scale(0.95)"/>
<path d="M-3.6 -1.4 L0 -1.4 L0 -3.1 L3.6 0 L0 3.1 L0 1.4 L-3.6 1.4 Z" fill="none" stroke="#f29b6e" stroke-width="1.05" transform="translate(825.9 772.2) rotate(405) scale(0.95)"/>
<path d="M-3.6 -1.4 L0 -1.4 L0 -3.1 L3.6 0 L0 3.1 L0 1.4 L-3.6 1.4 Z" fill="none" stroke="#f29b6e" stroke-width="1.05" transform="translate(861.3 757.6) rotate(450) scale(0.95)"/>
<path d="M-3.6 -1.4 L0 -1.4 L0 -3.1 L3.6 0 L0 3.1 L0 1.4 L-3.6 1.4 Z" fill="none" stroke="#f29b6e" stroke-width="1.05" transform="translate(896.7 772.2) rotate(495) scale(0.95)"/>
<path d="M830.4 827.2 Q845 822 858.8 821.5 Q875 821.5 891.4 827.2" stroke="#111" stroke-width="8.899999999999999" fill="none" stroke-linecap="butt"/>
<path d="M830.4 827.2 Q845 822 858.8 821.5 Q875 821.5 891.4 827.2" stroke="#bababa" stroke-width="6.6" fill="none" stroke-linecap="butt"/>
<ellipse cx="891.4" cy="827.2" rx="1.7" ry="3.8" fill="#d2d2d2" stroke="#111" stroke-width="1" transform="rotate(19.2 891.4 827.2)"/>
<path d="M831.1 826.5 Q846 815 858.8 804.5 Q870 794 879.3 782.1" stroke="#111" stroke-width="9.3" fill="none" stroke-linecap="butt"/>
<path d="M831.1 826.5 Q846 815 858.8 804.5 Q870 794 879.3 782.1" stroke="#bababa" stroke-width="7.0" fill="none" stroke-linecap="butt"/>
<ellipse cx="879.3" cy="782.1" rx="1.7" ry="4.0" fill="#d2d2d2" stroke="#111" stroke-width="1" transform="rotate(-52.0 879.3 782.1)"/>
<path d="M855.2 771.9 Q858 788 865.9 801.7 Q875 818 889.2 834.3" stroke="#111" stroke-width="9.7" fill="none" stroke-linecap="butt"/>
<path d="M855.2 771.9 Q858 788 865.9 801.7 Q875 818 889.2 834.3" stroke="#bababa" stroke-width="7.4" fill="none" stroke-linecap="butt"/>
<ellipse cx="855.2" cy="771.9" rx="1.7" ry="4.2" fill="#d2d2d2" stroke="#111" stroke-width="1" transform="rotate(-99.9 855.2 771.9)"/>
<ellipse cx="882.2" cy="826.3" rx="12.3" ry="8.8" fill="none" stroke="#f01818" stroke-width="1.4" stroke-dasharray="6 4.6" transform="rotate(25 882.2 826.3)"/>
<line x1="880.9" y1="837.8" x2="862.0" y2="862.9" stroke="#f01818" stroke-width="1.5"/>
<path d="M857.2 869.3 L859.3 860.9 L864.7 865.0 Z" fill="#f01818"/>
<text x="770.9" y="780.7" font-size="9.8" fill="#111" font-weight="bold" textLength="26" lengthAdjust="spacingAndGlyphs" >Resin</text>
<text x="760.6" y="791.8" font-size="9.8" fill="#111" font-weight="bold" textLength="46.1" lengthAdjust="spacingAndGlyphs" >shrinkage</text>
<rect x="731.1" y="898.5" width="24.5" height="18.8" fill="#ffd85c"/>
<circle cx="743.2" cy="917.3" r="12" fill="#ffd85c" stroke="#222" stroke-width="1.15" stroke-dasharray="2.6 1.3"/>
<rect x="704.5" y="875" width="71.8" height="23.7" fill="url(#cnt)" stroke="#4a401a" stroke-width="0.8"/>
<rect x="764.6" y="901" width="10.5" height="10" fill="#f4f8fb" opacity="0.9"/>
<circle cx="769.6" cy="906" r="4.3" fill="url(#sph)"/>
<path d="M761.7 902 L761.7 908 M759.2 912 L761.7 908 L764.2 912 M758.7 905 L764.7 905" stroke="#4472c4" stroke-width="1.3" fill="none"/>
<circle cx="761.7" cy="901.8" r="1.3" fill="#4472c4"/>
<path d="M758.2 902.5 L765.2 912 M765.2 902.5 L758.2 912" stroke="#f03a3a" stroke-width="1.5" fill="none"/>
<rect x="803.7" y="875" width="71.4" height="23.7" fill="url(#cnt)" stroke="#4a401a" stroke-width="0.8"/>
<circle cx="841.2" cy="908.9" r="12" fill="#ffc000" stroke="#222" stroke-width="1.15" stroke-dasharray="2.6 1.3"/>
<rect x="861.8" y="903" width="10.5" height="10" fill="#f4f8fb" opacity="0.9"/>
<circle cx="866.8" cy="908" r="4.3" fill="url(#sph)"/>
<rect x="858.3" y="902.5999999999999" width="2.2" height="10.4" fill="#4472c4"/>
<text x="696.1" y="1070.1" font-size="14" fill="#111" font-weight="bold" textLength="35.7" lengthAdjust="spacingAndGlyphs" >Resin</text>
<rect x="660.8" y="1076.7" width="92.9" height="71" fill="url(#film)"/>
<line x1="719.1" y1="1074.8" x2="719.1" y2="1090.1" stroke="#5b86c9" stroke-width="0.8"/>
<line x1="707.4" y1="1114.2" x2="707.4" y2="1148.5" stroke="#5b86c9" stroke-width="0.8"/>
<text x="680.8" y="1170.3" font-size="14" fill="#111" font-weight="bold" textLength="54.7" lengthAdjust="spacingAndGlyphs" >CNT film</text>
<text x="756.7" y="1088.8" font-size="9.8" fill="#111" font-weight="bold" textLength="68.7" lengthAdjust="spacingAndGlyphs" >In-plane lateral</text>
<text x="760.6" y="1100" font-size="9.8" fill="#111" font-weight="bold" textLength="60.9" lengthAdjust="spacingAndGlyphs" >compression</text>
<path d="M769.2 1109.7 L799.6 1109.7 L799.6 1103.3 L811.9 1115.5 L799.6 1127.7 L799.6 1121.3 L769.2 1121.3 Z" fill="#ffc000" stroke="#bf9000" stroke-width="1"/>
<rect x="826.6" y="1076.7" width="94.8" height="70.3" fill="none" stroke="#ffc000" stroke-width="1" stroke-dasharray="1.5 1.5"/>
<rect x="826.6" y="1106.5" width="94.8" height="11.3" fill="#fff"/>
<rect x="831.4" y="1099.3" width="84.5" height="26.6" fill="url(#film4)"/>
<rect x="826.6" y="1106.5" width="94.8" height="11.3" fill="none" stroke="#222" stroke-width="0.9" stroke-dasharray="1.6 1.4"/>
<path d="M833.1 1087.7 L839.1 1087.7 L839.1 1083.7 L846.1 1091.7 L839.1 1099.7 L839.1 1095.7 L833.1 1095.7 Z" fill="#8db4e8" stroke="#7aa3dc" stroke-width="0.6"/>
<path d="M913.2 1087.7 L907.2 1087.7 L907.2 1083.7 L900.2 1091.7 L907.2 1099.7 L907.2 1095.7 L913.2 1095.7 Z" fill="#8db4e8" stroke="#7aa3dc" stroke-width="0.6"/>
<path d="M833.1 1125.0 L839.1 1125.0 L839.1 1121.0 L846.1 1129 L839.1 1137.0 L839.1 1133.0 L833.1 1133.0 Z" fill="#8db4e8" stroke="#7aa3dc" stroke-width="0.6"/>
<path d="M913.2 1125.0 L907.2 1125.0 L907.2 1121.0 L900.2 1129 L907.2 1137.0 L907.2 1133.0 L913.2 1133.0 Z" fill="#8db4e8" stroke="#7aa3dc" stroke-width="0.6"/>
<text x="863.5" y="1161.5" font-size="9.8" fill="#1f77c4" font-weight="bold" textLength="25.9" lengthAdjust="spacingAndGlyphs" >Resin</text>
<text x="853.8" y="1173.1" font-size="9.8" fill="#1f77c4" font-weight="bold" textLength="45.8" lengthAdjust="spacingAndGlyphs" >shrinkage</text>
<ellipse cx="438.8" cy="1218.4" rx="58.4" ry="57.4" fill="#f3d25a"/>
<path d="M405.5 1238.6 Q420 1234 435.9 1233.6 Q452 1234 467.1 1238.6" stroke="#111" stroke-width="8.5" fill="none" stroke-linecap="butt"/>
<path d="M405.5 1238.6 Q420 1234 435.9 1233.6 Q452 1234 467.1 1238.6" stroke="#bababa" stroke-width="6.2" fill="none" stroke-linecap="butt"/>
<ellipse cx="467.1" cy="1238.6" rx="1.7" ry="3.6" fill="#d2d2d2" stroke="#111" stroke-width="1" transform="rotate(16.9 467.1 1238.6)"/>
<path d="M406.9 1237.9 Q420 1228 431.7 1218 Q444 1207 454.4 1193.9" stroke="#111" stroke-width="8.899999999999999" fill="none" stroke-linecap="butt"/>
<path d="M406.9 1237.9 Q420 1228 431.7 1218 Q444 1207 454.4 1193.9" stroke="#bababa" stroke-width="6.6" fill="none" stroke-linecap="butt"/>
<ellipse cx="454.4" cy="1193.9" rx="1.7" ry="3.8" fill="#d2d2d2" stroke="#111" stroke-width="1" transform="rotate(-51.6 454.4 1193.9)"/>
<path d="M430.3 1183.3 Q432 1198 438.8 1210.9 Q448 1228 464.3 1246.4" stroke="#111" stroke-width="9.3" fill="none" stroke-linecap="butt"/>
<path d="M430.3 1183.3 Q432 1198 438.8 1210.9 Q448 1228 464.3 1246.4" stroke="#bababa" stroke-width="7.0" fill="none" stroke-linecap="butt"/>
<ellipse cx="430.3" cy="1183.3" rx="1.7" ry="4.0" fill="#d2d2d2" stroke="#111" stroke-width="1" transform="rotate(-96.6 430.3 1183.3)"/>
<path d="M501.7 1212.0 L518.9 1212.0 L518.9 1206.0 L531 1218 L518.9 1230.0 L518.9 1224.0 L501.7 1224.0 Z" fill="#ffc000" stroke="#bf9000" stroke-width="1"/>
<ellipse cx="590.5" cy="1220.5" rx="58.2" ry="56.9" fill="#f5f9fd" stroke="#f4b183" stroke-width="1.3"/>
<ellipse cx="590.3" cy="1220.3" rx="42.9" ry="41.9" fill="#ffc000"/>
<path d="M-3.6 -1.4 L0 -1.4 L0 -3.1 L3.6 0 L0 3.1 L0 1.4 L-3.6 1.4 Z" fill="none" stroke="#f29b6e" stroke-width="1.05" transform="translate(640.1 1220.0) rotate(180) scale(0.95)"/>
<path d="M-3.6 -1.4 L0 -1.4 L0 -3.1 L3.6 0 L0 3.1 L0 1.4 L-3.6 1.4 Z" fill="none" stroke="#f29b6e" stroke-width="1.05" transform="translate(625.5 1255.2) rotate(225) scale(0.95)"/>
<path d="M-3.6 -1.4 L0 -1.4 L0 -3.1 L3.6 0 L0 3.1 L0 1.4 L-3.6 1.4 Z" fill="none" stroke="#f29b6e" stroke-width="1.05" transform="translate(590.3 1269.8) rotate(270) scale(0.95)"/>
<path d="M-3.6 -1.4 L0 -1.4 L0 -3.1 L3.6 0 L0 3.1 L0 1.4 L-3.6 1.4 Z" fill="none" stroke="#f29b6e" stroke-width="1.05" transform="translate(555.1 1255.2) rotate(315) scale(0.95)"/>
<path d="M-3.6 -1.4 L0 -1.4 L0 -3.1 L3.6 0 L0 3.1 L0 1.4 L-3.6 1.4 Z" fill="none" stroke="#f29b6e" stroke-width="1.05" transform="translate(540.5 1220.0) rotate(360) scale(0.95)"/>
<path d="M-3.6 -1.4 L0 -1.4 L0 -3.1 L3.6 0 L0 3.1 L0 1.4 L-3.6 1.4 Z" fill="none" stroke="#f29b6e" stroke-width="1.05" transform="translate(555.1 1184.8) rotate(405) scale(0.95)"/>
<path d="M-3.6 -1.4 L0 -1.4 L0 -3.1 L3.6 0 L0 3.1 L0 1.4 L-3.6 1.4 Z" fill="none" stroke="#f29b6e" stroke-width="1.05" transform="translate(590.3 1170.2) rotate(450) scale(0.95)"/>
<path d="M-3.6 -1.4 L0 -1.4 L0 -3.1 L3.6 0 L0 3.1 L0 1.4 L-3.6 1.4 Z" fill="none" stroke="#f29b6e" stroke-width="1.05" transform="translate(625.5 1184.8) rotate(495) scale(0.95)"/>
<path d="M559.9 1232.6 Q575 1229 588.2 1229.3 Q605 1230 621.1 1235.3" stroke="#111" stroke-width="8.899999999999999" fill="none" stroke-linecap="butt"/>
<path d="M559.9 1232.6 Q575 1229 588.2 1229.3 Q605 1230 621.1 1235.3" stroke="#bababa" stroke-width="6.6" fill="none" stroke-linecap="butt"/>
<ellipse cx="621.1" cy="1235.3" rx="1.7" ry="3.8" fill="#d2d2d2" stroke="#111" stroke-width="1" transform="rotate(18.2 621.1 1235.3)"/>
<path d="M560.5 1236.6 Q573 1227 584.2 1218.2 Q597 1208 608.6 1194.5" stroke="#111" stroke-width="9.3" fill="none" stroke-linecap="butt"/>
<path d="M560.5 1236.6 Q573 1227 584.2 1218.2 Q597 1208 608.6 1194.5" stroke="#bababa" stroke-width="7.0" fill="none" stroke-linecap="butt"/>
<ellipse cx="608.6" cy="1194.5" rx="1.7" ry="4.0" fill="#d2d2d2" stroke="#111" stroke-width="1" transform="rotate(-49.3 608.6 1194.5)"/>
<path d="M580.9 1183.9 Q583 1198 590.8 1211.6 Q600 1228 615.1 1247.1" stroke="#111" stroke-width="9.7" fill="none" stroke-linecap="butt"/>
<path d="M580.9 1183.9 Q583 1198 590.8 1211.6 Q600 1228 615.1 1247.1" stroke="#bababa" stroke-width="7.4" fill="none" stroke-linecap="butt"/>
<ellipse cx="580.9" cy="1183.9" rx="1.7" ry="4.2" fill="#d2d2d2" stroke="#111" stroke-width="1" transform="rotate(-98.5 580.9 1183.9)"/>
<text x="488.9" y="1191.9" font-size="9.8" fill="#111" font-weight="bold" textLength="55.5" lengthAdjust="spacingAndGlyphs" >High Elastic</text>
<text x="493.8" y="1203.4" font-size="9.8" fill="#111" font-weight="bold" textLength="46.3" lengthAdjust="spacingAndGlyphs" >Shrinkage</text>
<rect x="103" y="1102.2" width="92.6" height="41.9" fill="url(#film6)"/>
<rect x="262.8" y="1107.8" width="91.6" height="33.3" fill="url(#film6)"/>
<path d="M209.5 1120.2 L239.3 1120.2 L239.3 1114.0 L251.7 1126 L239.3 1138.0 L239.3 1131.8 L209.5 1131.8 Z" fill="#ffc000" stroke="#bf9000" stroke-width="1"/>
<text x="214.1" y="1103.4" font-size="9.8" fill="#111" font-weight="bold" textLength="31.4" lengthAdjust="spacingAndGlyphs" >Glassy</text>
<text x="206.5" y="1114.6" font-size="9.8" fill="#111" font-weight="bold" textLength="46.1" lengthAdjust="spacingAndGlyphs" >Shrinkage</text>
<text x="275.6" y="1078.6" font-size="9.8" fill="#ee1c25" font-weight="bold" textLength="67.3" lengthAdjust="spacingAndGlyphs" >In-plane lateral</text>
<text x="279.7" y="1089.8" font-size="9.8" fill="#ee1c25" font-weight="bold" textLength="60.2" lengthAdjust="spacingAndGlyphs" >compression</text>
<path d="M270.2 1098.5 L275.5 1098.5 L275.5 1095.6 L281.8 1101.8 L275.5 1108.0 L275.5 1105.1 L270.2 1105.1 Z" fill="#ff1010"/>
<path d="M348.4 1099.0 L343.1 1099.0 L343.1 1096.1 L336.9 1102.3 L343.1 1108.5 L343.1 1105.6 L348.4 1105.6 Z" fill="#ff1010"/>
<path d="M270.6 1148.1 L275.9 1148.1 L275.9 1145.2 L282.1 1151.4 L275.9 1157.6 L275.9 1154.7 L270.6 1154.7 Z" fill="#ff1010"/>
<path d="M348.8 1148.5 L343.5 1148.5 L343.5 1145.6 L337.2 1151.8 L343.5 1158.0 L343.5 1155.1 L348.8 1155.1 Z" fill="#ff1010"/>
<path d="M392.0 866.3 C393.3 865.7 397.0 863.8 400.0 862.6 C403.0 861.4 406.2 860.0 410.0 859.2 C413.8 858.4 418.2 857.8 422.5 857.8 C426.8 857.8 431.1 858.2 436.0 859.2 C440.9 860.2 446.7 862.0 452.0 863.6 C457.3 865.2 462.7 867.3 468.0 868.8 C473.3 870.3 479.2 871.8 484.0 872.6 C488.8 873.4 492.7 873.7 497.0 873.6 C501.3 873.5 505.5 873.2 510.0 872.3 C514.5 871.4 519.7 869.3 524.0 868.2 C528.3 867.1 532.5 866.1 536.0 865.6 C539.5 865.1 541.7 865.2 545.0 865.4 C548.3 865.6 551.8 865.9 556.0 866.8 C560.2 867.7 565.2 869.5 570.0 871.0 C574.8 872.5 580.3 874.8 585.0 876.0 C589.7 877.2 594.2 878.0 598.0 878.3 C601.8 878.6 604.0 878.6 608.0 878.0 C612.0 877.4 617.3 876.0 622.0 874.8 C626.7 873.5 634.0 871.2 636.4 870.5 L636.4 1029.7 C634.7 1030.4 629.4 1032.8 626.0 1034.0 C622.6 1035.2 619.2 1036.5 616.0 1037.2 C612.8 1037.9 610.0 1038.2 606.7 1038.2 C603.4 1038.2 600.1 1038.0 596.0 1037.0 C591.9 1036.0 587.0 1034.0 582.0 1032.0 C577.0 1030.0 571.0 1027.0 566.0 1025.0 C561.0 1023.0 556.5 1021.1 552.0 1020.0 C547.5 1018.9 543.0 1018.4 538.7 1018.3 C534.4 1018.2 530.5 1018.5 526.0 1019.6 C521.5 1020.7 516.7 1022.9 512.0 1025.0 C507.3 1027.1 502.5 1030.0 498.0 1032.0 C493.5 1034.0 489.1 1036.2 484.8 1036.8 C480.5 1037.4 476.8 1036.8 472.0 1035.5 C467.2 1034.2 461.3 1031.2 456.0 1029.0 C450.7 1026.8 445.1 1023.8 440.0 1022.0 C434.9 1020.2 430.0 1018.7 425.3 1018.3 C420.6 1017.9 416.2 1018.9 412.0 1019.8 C407.8 1020.7 403.3 1022.2 400.0 1023.5 C396.7 1024.8 393.3 1026.8 392.0 1027.4 Z" fill="#fff2cc" filter="url(#sh)"/>
<rect x="397.6" y="906.6" width="97.2" height="32" fill="url(#cntk)"/>
<rect x="521.7" y="906.6" width="99.2" height="32" fill="url(#cntk)"/>
<g stroke="#8a8fd0" stroke-width="0.85" stroke-dasharray="3.8 2.6">
<line x1="497.6" y1="908.2" x2="520" y2="908.2"/>
<line x1="497.6" y1="911.1" x2="520" y2="911.1"/>
<line x1="497.6" y1="914.0" x2="520" y2="914.0"/>
<line x1="497.6" y1="916.9" x2="520" y2="916.9"/>
<line x1="497.6" y1="919.8" x2="520" y2="919.8"/>
<line x1="497.6" y1="922.7" x2="520" y2="922.7"/>
<line x1="497.6" y1="925.6" x2="520" y2="925.6"/>
<line x1="497.6" y1="928.5" x2="520" y2="928.5"/>
<line x1="497.6" y1="931.4" x2="520" y2="931.4"/>
<line x1="497.6" y1="934.3" x2="520" y2="934.3"/>
<line x1="497.6" y1="937.2" x2="520" y2="937.2"/>
</g>
<g stroke="#8a8fd0" stroke-width="0.95" stroke-dasharray="2.4 1.5">
<line x1="430.6" y1="939.4" x2="430.6" y2="959"/>
<line x1="434.1" y1="939.4" x2="434.1" y2="959"/>
<line x1="437.5" y1="939.4" x2="437.5" y2="951"/>
<line x1="441.0" y1="939.4" x2="441.0" y2="951"/>
<line x1="444.4" y1="939.4" x2="444.4" y2="951"/>
<line x1="447.9" y1="939.4" x2="447.9" y2="951"/>
<line x1="451.3" y1="939.4" x2="451.3" y2="951"/>
<line x1="454.8" y1="939.4" x2="454.8" y2="951"/>
<line x1="458.2" y1="939.4" x2="458.2" y2="951"/>
<line x1="461.7" y1="939.4" x2="461.7" y2="959"/>
<line x1="465.1" y1="939.4" x2="465.1" y2="959"/>
</g>
<circle cx="558.3" cy="890.6" r="16.3" fill="#fff2cc" stroke="#222" stroke-width="1.3"/>
<circle cx="558.3" cy="890.6" r="16.3" fill="none" stroke="#111" stroke-width="2.3" stroke-dasharray="1 3.3"/>
<circle cx="446.2" cy="965.6" r="16.3" fill="#fff2cc" stroke="#222" stroke-width="1.3"/>
<circle cx="446.2" cy="965.6" r="16.3" fill="none" stroke="#111" stroke-width="2.3" stroke-dasharray="1 3.3"/>
<text x="500.4" y="892.4" font-size="15.2" font-weight="bold" fill="#111">R<tspan font-size="9.8" dy="3.2">C</tspan></text>
<line x1="553.4" y1="908.3" x2="529.2" y2="897.1" stroke="#2f4486" stroke-width="1.9"/>
<path d="M521.9 893.7 L530.6 893.9 L527.7 900.2 Z" fill="#2f4486"/>
<text x="500" y="970.8" font-size="15.2" font-weight="bold" fill="#111">R<tspan font-size="9.8" dy="3.2">t</tspan></text>
<line x1="505.2" y1="957.2" x2="505.2" y2="947.5" stroke="#2f4486" stroke-width="1.9"/>
<path d="M505.2 939.5 L508.7 947.5 L501.7 947.5 Z" fill="#2f4486"/>
<line x1="493.1" y1="966.4" x2="475.7" y2="955.2" stroke="#2f4486" stroke-width="1.9"/>
<path d="M469.0 950.9 L477.6 952.3 L473.8 958.2 Z" fill="#2f4486"/>
<text x="499.2" y="1005.4" font-size="15.2" font-weight="bold" fill="#111">R<tspan font-size="9.8" dy="3.2">i</tspan></text>
<line x1="535.6" y1="1000.9" x2="523.8" y2="1000.9" stroke="#2f4486" stroke-width="1.9"/>
<path d="M515.8 1000.9 L523.8 997.4 L523.8 1004.4 Z" fill="#2f4486"/>
<path d="M543.4 965 Q546 959.5 553.6 959.2 Q561.5 959.6 564.7 966.4 L575.4 996 Q577 1004 571 1011 Q563 1017.5 553 1016.4 Q543 1014.5 538.5 1007 Q535.8 1001 537 997.6 Z" fill="#1d1d1d"/>
<ellipse cx="556.2" cy="999.6" rx="18.6" ry="16.6" fill="url(#tubein)" transform="rotate(-12 556.2 999.6)"/>
<ellipse cx="556.2" cy="999.6" rx="18.6" ry="16.6" fill="url(#mesh)" transform="rotate(-12 556.2 999.6)"/>
<path d="M543.4 965 Q546 959.5 553.6 959.2 Q561.5 959.6 564.7 966.4 L572 987 Q556 978 539.5 989.5 Z" fill="#1d1d1d"/>
<path d="M543.4 965 Q546 959.5 553.6 959.2 Q561.5 959.6 564.7 966.4 L572 987 Q556 978 539.5 989.5 Z" fill="url(#mesh2)" opacity="0.5"/>
<ellipse cx="556.2" cy="999.6" rx="18.6" ry="16.6" fill="none" stroke="#161616" stroke-width="1.6" transform="rotate(-12 556.2 999.6)"/>
<text x="596.2" y="975.4" font-size="10" fill="#111" font-weight="bold" textLength="20.4" lengthAdjust="spacingAndGlyphs" >CNT</text>
<line x1="590.3" y1="972.3" x2="575.9" y2="972.3" stroke="#111" stroke-width="1.5"/>
<path d="M570.4 972.3 L575.9 969.5 L575.9 975.1 Z" fill="#111"/>
<line x1="605.3" y1="961.3" x2="605.3" y2="951.8" stroke="#111" stroke-width="1.5"/>
<path d="M605.3 946.3 L608.1 951.8 L602.5 951.8 Z" fill="#111"/>
</svg>
</body></html>
